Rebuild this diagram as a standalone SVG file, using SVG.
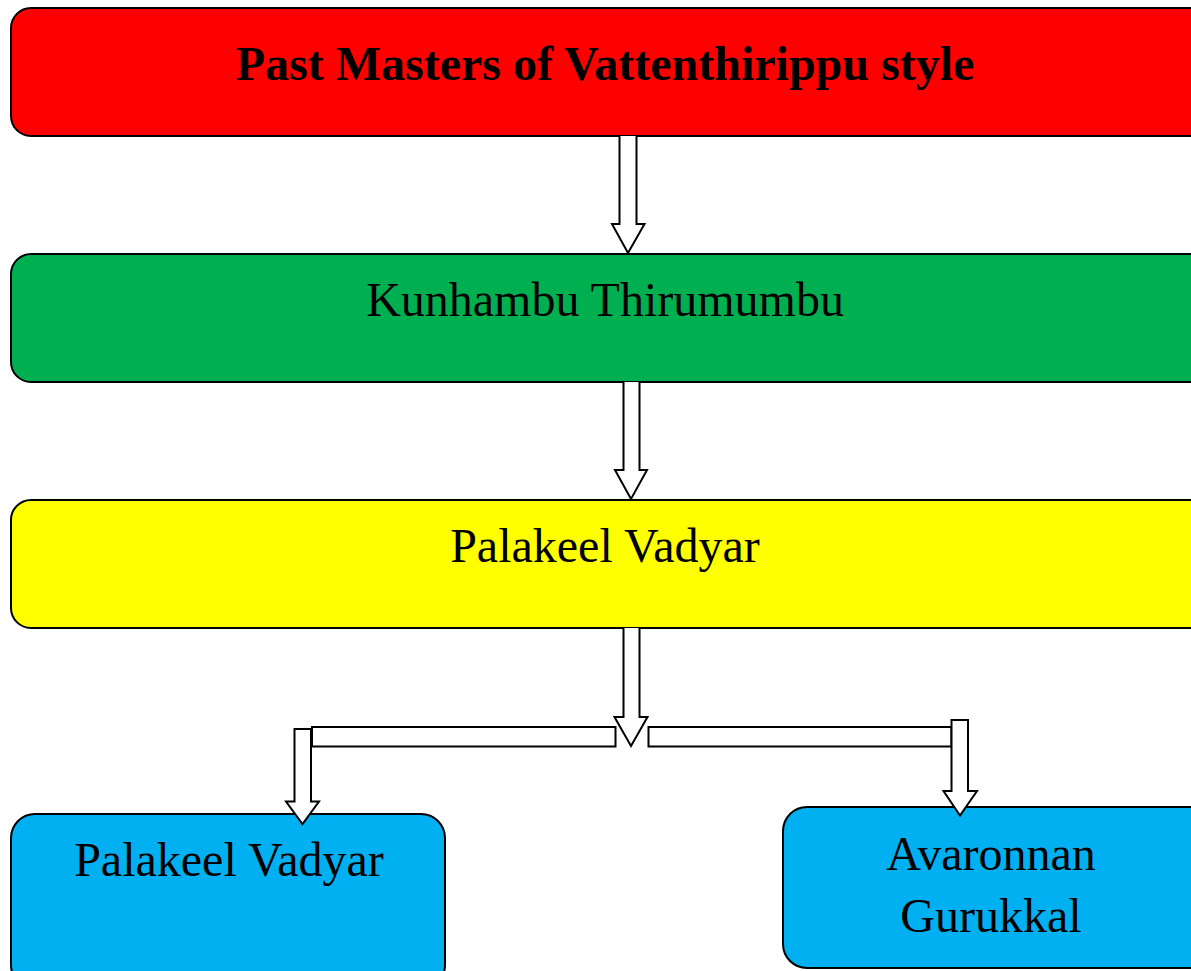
<svg xmlns="http://www.w3.org/2000/svg" width="1191" height="971" viewBox="0 0 1191 971">
<style>
.box{stroke:#000;stroke-width:2}
.t{font-family:"Liberation Serif","Times New Roman",serif;font-size:48px;fill:#000;text-anchor:middle}
.b{font-weight:bold}
.arr{fill:#fff;stroke:#000;stroke-width:2;stroke-linejoin:miter}
</style>
<rect width="1191" height="971" fill="#fff"/>
<g id="node-past-masters">
<rect class="box" x="11" y="8" width="1200" height="128" rx="20" fill="#FF0000"/>
<text class="t b" x="605" y="80">Past Masters of Vattenthirippu style</text>
</g>
<g id="node-kunhambu">
<rect class="box" x="11" y="254" width="1200" height="128" rx="20" fill="#00B050"/>
<text class="t" x="605" y="316">Kunhambu Thirumumbu</text>
</g>
<g id="node-palakeel">
<rect class="box" x="11" y="500" width="1200" height="128" rx="20" fill="#FFFF00"/>
<text class="t" x="605" y="562">Palakeel Vadyar</text>
</g>
<g id="node-palakeel-2">
<rect class="box" x="11" y="814" width="434" height="175" rx="24" fill="#00B0F0"/>
<text class="t" x="229" y="876">Palakeel Vadyar</text>
</g>
<g id="node-avaronnan">
<rect class="box" x="783" y="807" width="430" height="161" rx="24" fill="#00B0F0"/>
<text class="t" x="991" y="870">Avaronnan</text>
<text class="t" x="991" y="932">Gurukkal</text>
</g>
<g id="connectors">
<path class="arr" d="M619.5,136 V224 H612 L628,253 L644.5,224 H636.5 V136"/>
<path class="arr" d="M623.5,382 V470 H615 L631,499 L647,470 H639.5 V382"/>
<path class="arr" d="M623.5,628 V717 H614.5 L631,746 L647.5,717 H639.5 V628"/>
<rect class="arr" x="312" y="727" width="303.5" height="19.5"/>
<rect class="arr" x="648.5" y="727" width="303" height="19.5"/>
<path class="arr" d="M294.5,729 V801.5 H286 L302.5,824 L319,801.5 H311 V729 Z"/>
<path class="arr" d="M951.5,720 V791 H943.5 L960,815.5 L977,791 H968 V720 Z"/>
</g>
</svg>
